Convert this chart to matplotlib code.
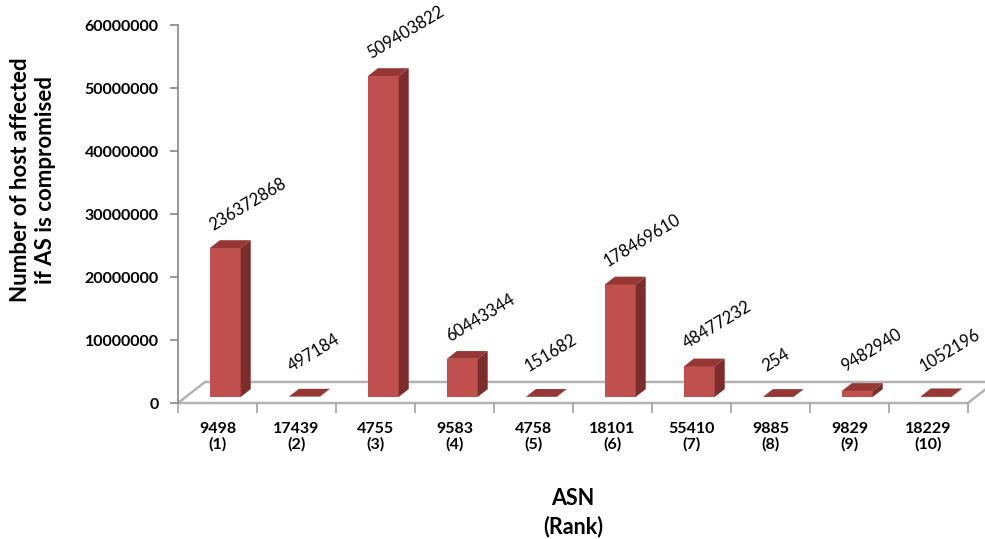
import matplotlib.pyplot as plt
from matplotlib.patches import Polygon
from matplotlib.ticker import FixedLocator
import numpy as np

asns = ["9498", "17439", "4755", "9583", "4758", "18101", "55410", "9885", "9829", "18229"]
ranks = ["(1)", "(2)", "(3)", "(4)", "(5)", "(6)", "(7)", "(8)", "(9)", "(10)"]
host_counts = [236372868, 497184, 509403822, 60443344, 151682,
               178469610, 48477232, 254, 9482940, 1052196]
y_ticks = [0, 10000000, 20000000, 30000000, 40000000, 50000000, 60000000]

FRONT = "#c0504d"
SIDE = "#7b2d2b"
TOP = "#953735"
FLOOR_EDGE = "#b3b3b3"

# fake 3d: one unit of depth moves things this far right / up
DEPTH_X = 0.342
DEPTH_Y = 3.34e6
D0, D1 = 0.29, 0.66
BAR_W = 0.39

plt.rcParams["font.family"] = ["Lato", "DejaVu Sans"]

fig = plt.figure(figsize=(9.85, 5.39), dpi=100)
ax = fig.add_axes((0.1807, 0.2523, 0.802, 0.7013))

n = len(asns)
ax.set_xlim(-0.5, n - 0.5)
ax.set_ylim(0, 60000000)

# floor
floor = Polygon(
    [(-0.5, 0), (n - 0.5, 0),
     (n - 0.5 + DEPTH_X, DEPTH_Y), (-0.5 + DEPTH_X, DEPTH_Y)],
    closed=True, facecolor="white", edgecolor=FLOOR_EDGE, lw=1.8,
    clip_on=False, zorder=1,
)
ax.add_patch(floor)

heights = np.array(host_counts, dtype=float) / 10
for i, h in enumerate(heights):
    x0 = i - BAR_W / 2 + D0 * DEPTH_X
    x1 = x0 + BAR_W
    y0 = D0 * DEPTH_Y
    y1 = y0 + h
    ddx = (D1 - D0) * DEPTH_X
    ddy = (D1 - D0) * DEPTH_Y
    front = Polygon([(x0, y0), (x1, y0), (x1, y1), (x0, y1)],
                    facecolor=FRONT, edgecolor="none", zorder=3)
    side = Polygon([(x1, y0), (x1 + ddx, y0 + ddy), (x1 + ddx, y1 + ddy), (x1, y1)],
                   facecolor=SIDE, edgecolor="none", zorder=3)
    top = Polygon([(x0, y1), (x1, y1), (x1 + ddx, y1 + ddy), (x0 + ddx, y1 + ddy)],
                  facecolor=TOP, edgecolor="none", zorder=4)
    for p in (front, side, top):
        ax.add_patch(p)

    label_y = max(y1, y0 + 1.3e6)
    ax.annotate(str(host_counts[i]), xy=(x0, label_y),
                xytext=(3, 17), textcoords="offset pixels",
                rotation=31, rotation_mode="anchor",
                ha="left", va="baseline", fontsize=12, color="black",
                annotation_clip=False, zorder=5)

for side_name in ("top", "right", "bottom"):
    ax.spines[side_name].set_visible(False)
ax.spines["left"].set_color("#868686")
ax.spines["left"].set_linewidth(1.2)

ax.yaxis.set_major_locator(FixedLocator(y_ticks))
ax.set_yticklabels([str(t) for t in y_ticks], fontsize=11.5, fontweight="bold")
ax.tick_params(axis="y", direction="out", length=6, width=1.2, color="#868686", pad=8)

ax.set_xticks(range(n))
ax.set_xticklabels([f"{a}\n{r}" for a, r in zip(asns, ranks)],
                   fontsize=11.5, fontweight="bold", linespacing=1.05)
ax.set_xticks(np.arange(-0.5, n), minor=True)
ax.tick_params(axis="x", which="major", length=0, pad=14)
ax.tick_params(axis="x", which="minor", direction="out", length=7,
               width=1.2, color="#a0a0a0")

ax.set_ylabel("Number of host affected\nif AS is compromised",
              fontsize=16, fontweight="bold", linespacing=1.2)
ax.yaxis.set_label_coords(-0.155, 0.59)
ax.set_xlabel("ASN\n(Rank)", fontsize=15.5, fontweight="bold",
              labelpad=26, linespacing=1.4)

fig.savefig("out.png", dpi=100)
